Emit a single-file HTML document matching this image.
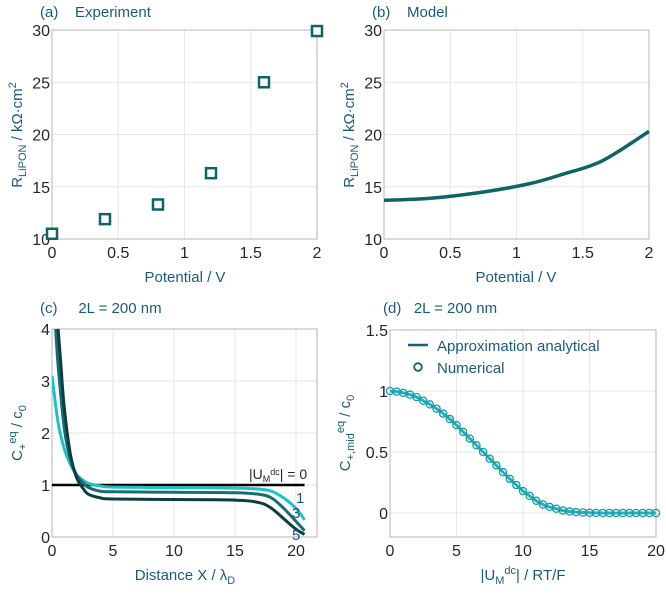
<!DOCTYPE html>
<html><head><meta charset="utf-8">
<style>
html,body{margin:0;padding:0;background:#fff;}
svg text{font-family:"Liberation Sans",sans-serif;}
.tick{font-size:16px;fill:#262626;}
.lab{font-size:15px;fill:#1b5b7a;}
.ttl{font-size:15px;fill:#1b5b7a;}
</style></head>
<body>
<svg id="fig" width="666" height="593" viewBox="0 0 666 593" xmlns="http://www.w3.org/2000/svg"></svg>
<script>
// Panel (a) data
const aX=[0,0.4,0.8,1.2,1.6,2.0];
const aY=[10.5,11.9,13.3,16.3,25.0,29.9];
// Panel (b) data
const bX=[0,0.35,0.75,1.1,1.35,1.65,2.0];
const bY=[13.7,13.9,14.5,15.3,16.2,17.5,20.3];
// Panel (c) data
const c1X=[0,0.5,1,1.5,2,2.5,3,4,5,10,15,17,18,19,20,20.7];
const c1Y=[3.1,2.2,1.7,1.4,1.2,1.1,1.03,0.98,0.96,0.95,0.94,0.92,0.88,0.75,0.55,0.33];
const c3X=[0.3,0.5,1,1.5,2,2.5,3,4,5,10,15,17,18,19,20,20.7];
const c3Y=[4.0,3.3,2.1,1.5,1.2,1.05,0.95,0.88,0.87,0.86,0.85,0.82,0.75,0.55,0.3,0.12];
const c5X=[0.5,0.7,1,1.5,2,2.5,3,4,5,10,15,17,18,19,20,20.7];
const c5Y=[4.0,3.4,2.5,1.6,1.15,0.95,0.82,0.75,0.73,0.72,0.71,0.66,0.55,0.35,0.15,0.05];
const c0X=[0,20.7];
const c0Y=[1,1];
// Panel (d) data
const dY=[1,0.995,0.985,0.97,0.95,0.92,0.89,0.855,0.815,0.77,0.72,0.665,0.61,0.555,0.5,0.445,0.39,0.335,0.28,0.23,0.18,0.14,0.1,0.07,0.05,0.035,0.02,0.012,0.007,0.004,0.002,0.001,0,0,0,0,0,0,0,0,0];
const dX=dY.map((v,i)=>i*0.5);
// tick labels
const aXT=["0","0.5","1","1.5","2"], aXV=[0,0.5,1,1.5,2];
const aYV=[10,15,20,25,30];
const cXV=[0,5,10,15,20], cYV=[0,1,2,3,4];
const dXV=[0,5,10,15,20], dYV=[0,0.5,1,1.5], dYT=["0","0.5","1","1.5"];

const NS="http://www.w3.org/2000/svg";
const svg=document.getElementById('fig');
function el(t,a,p){const e=document.createElementNS(NS,t);for(const k in a)e.setAttribute(k,a[k]);(p||svg).appendChild(e);return e;}
function mk(x0,x1,px0,px1){return v=>px0+(v-x0)/(x1-x0)*(px1-px0);}

function axes(name,L,R,T,B,sx,sy,xv,xt,yv,yt){
  const g=el('g',{});
  
  
  xv.forEach(v=>{const l=el('line',{x1:sx(v),x2:sx(v),y1:T,y2:B,stroke:'#e6e6e6','stroke-width':1},g);});
  yv.forEach(v=>{const l=el('line',{x1:L,x2:R,y1:sy(v),y2:sy(v),stroke:'#e6e6e6','stroke-width':1},g);});
  const r=el('rect',{x:L,y:T,width:R-L,height:B-T,fill:'none',stroke:'#b5b5b5','stroke-width':1},g);
  
  xv.forEach((v,i)=>{const t=el('text',{x:sx(v),y:B+19,'text-anchor':'middle',class:'tick'},g);t.textContent=xt[i];});
  yv.forEach((v,i)=>{const t=el('text',{x:L-2,y:sy(v)+6,'text-anchor':'end',class:'tick'},g);t.textContent=yt[i];});
  return g;
}
function line(X,Y,sx,sy,color,w,name){
  const P=X.map((x,i)=>[sx(x),sy(Y[i])]);
  let d='M'+P[0][0].toFixed(2)+' '+P[0][1].toFixed(2);
  for(let i=0;i<P.length-1;i++){
    const p0=P[Math.max(0,i-1)],p1=P[i],p2=P[i+1],p3=P[Math.min(P.length-1,i+2)];
    const c1=[p1[0]+(p2[0]-p0[0])/6,p1[1]+(p2[1]-p0[1])/6];
    const c2=[p2[0]-(p3[0]-p1[0])/6,p2[1]-(p3[1]-p1[1])/6];
    d+=' C'+c1[0].toFixed(2)+' '+c1[1].toFixed(2)+' '+c2[0].toFixed(2)+' '+c2[1].toFixed(2)+' '+p2[0].toFixed(2)+' '+p2[1].toFixed(2);
  }
  const p=el('path',{d:d,fill:'none',stroke:color,'stroke-width':w,'stroke-linejoin':'round'});
  return p;
}
function html(x,y,cls,txt,name,anchor,rot){
  const t=el('text',{x:x,y:y,class:cls,'text-anchor':anchor||'start'});
  if(rot)t.setAttribute('transform','rotate(-90 '+x+' '+y+')');
  t.innerHTML=txt;return t;
}
const tealDark='#0e6466';

// (a)
{const sx=mk(0,2,52,317), sy=mk(10,30,239,30);
axes('panel-a',52,317,30,239,sx,sy,aXV,aXT,aYV,aYV.map(String));
aX.forEach((x,i)=>{const r=el('rect',{x:sx(x)-5,y:sy(aY[i])-5,width:10,height:10,fill:'#fff',stroke:tealDark,'stroke-width':2.5});});
html(40,17,'ttl','(a)&#160;&#160;&#160;&#160;Experiment','panel-a-title');
html(185,282,'lab','Potential / V','panel-a-x-axis-title','middle');
html(22,135,'lab','R<tspan font-size="11" dy="4">LiPON</tspan><tspan dy="-4"> / kΩ·cm</tspan><tspan font-size="11" dy="-6">2</tspan>','panel-a-y-axis-title','middle',true);
}
// (b)
{const sx=mk(0,2,384,649), sy=mk(10,30,239,30);
axes('panel-b',384,649,30,239,sx,sy,aXV,aXT,aYV,aYV.map(String));
line(bX,bY,sx,sy,tealDark,3.5,'model-curve');
html(372,17,'ttl','(b)&#160;&#160;&#160;&#160;Model','panel-b-title');
html(516,282,'lab','Potential / V','panel-b-x-axis-title','middle');
html(354,135,'lab','R<tspan font-size="11" dy="4">LiPON</tspan><tspan dy="-4"> / kΩ·cm</tspan><tspan font-size="11" dy="-6">2</tspan>','panel-b-y-axis-title','middle',true);
}
// (c)
{const sx=mk(0,20,52,296), sy=mk(0,4,537,329);
const clip=el('clipPath',{id:'cc'});el('rect',{x:52,y:329,width:265,height:208},clip);
axes('panel-c',52,317,329,537,sx,sy,cXV,cXV.map(String),cYV,cYV.map(String));
const g=el('g',{'clip-path':'url(#cc)'});
g.appendChild(line(c0X,c0Y,sx,sy,'#000',2.5,'curve-u0'));
g.appendChild(line(c1X,c1Y,sx,sy,'#1cc3c6',3,'curve-u1'));
g.appendChild(line(c3X,c3Y,sx,sy,'#166e70',3,'curve-u3'));
g.appendChild(line(c5X,c5Y,sx,sy,'#0b3e40',3,'curve-u5'));
html(40,313,'ttl','(c)&#160;&#160;&#160;&#160;&#160;2L = 200 nm','panel-c-title');
html(185,580,'lab','Distance X / λ<tspan font-size="11" dy="4">D</tspan>','panel-c-x-axis-title','middle');
html(22,433,'lab','C<tspan font-size="11" dy="4">+</tspan><tspan font-size="11" dy="-10">eq</tspan><tspan dy="6"> / c</tspan><tspan font-size="11" dy="4">0</tspan>','panel-c-y-axis-title','middle',true);
html(249,479,'tick','<tspan font-size="14">|U</tspan><tspan font-size="9" dy="3">M</tspan><tspan font-size="9" dy="-7">dc</tspan><tspan font-size="14" dy="4">| = 0</tspan>','label-u0');
html(296,503,'lab','1','label-u1');
html(292,518,'lab','3','label-u3');
html(292,540,'lab','5','label-u5');
}
// (d)
{const sx=mk(0,20,390,656), sy=mk(0,1.5,513,330);
axes('panel-d',390,656,330,537,sx,sy,dXV,dXV.map(String),dYV,dYT);
line(dX,dY,sx,sy,'#1ab3bd',3,'analytical-curve');
dX.forEach((x,i)=>{const c=el('circle',{cx:sx(x),cy:sy(dY[i]),r:3.6,fill:'none',stroke:'#1a9aa8','stroke-width':1.3});});
const lg=el('g',{});
const ll=el('line',{x1:408,x2:428,y1:345,y2:345,stroke:'#17607e','stroke-width':2.5},lg);
const lc=el('circle',{cx:418,cy:367,r:3.8,fill:'none',stroke:'#17607e','stroke-width':1.8},lg);
html(437,351,'lab','Approximation analytical','legend-entry-analytical');
html(437,373,'lab','Numerical','legend-entry-numerical');
html(383,313,'ttl','(d)&#160;&#160;&#160;2L = 200 nm','panel-d-title');
html(523,580,'lab','|U<tspan font-size="11" dy="4">M</tspan><tspan font-size="11" dy="-10">dc</tspan><tspan dy="6">| / RT/F</tspan>','panel-d-x-axis-title','middle');
html(350,433,'lab','C<tspan font-size="11" dy="4">+,mid</tspan><tspan font-size="11" dy="-10">eq</tspan><tspan dy="6"> / c</tspan><tspan font-size="11" dy="4">0</tspan>','panel-d-y-axis-title','middle',true);
}
</script>
</body></html>
